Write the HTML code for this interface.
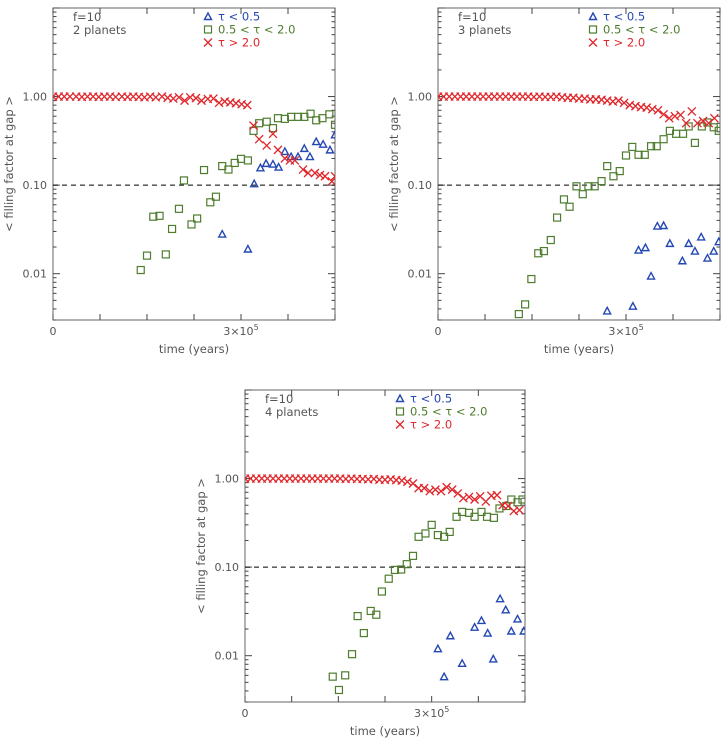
<!DOCTYPE html>
<html><head><meta charset="utf-8"><style>
body{margin:0;background:#fff}
svg text{font-family:"DejaVu Sans","Liberation Sans",sans-serif;fill:#555}
</style></head><body>
<svg id="chart" width="726" height="745" viewBox="0 0 726 745" xmlns="http://www.w3.org/2000/svg"></svg>
<script>
// ---- data (time in units of 1e5 years, value = filling factor) ----
const p1RedT = [0,0.09,0.18,0.27,0.37,0.46,0.55,0.64,0.73,0.82,0.91,1.0,1.1,1.19,1.28,1.37,1.46,1.55,1.64,1.74,1.83,1.92,2.01,2.1,2.19,2.28,2.37,2.47,2.56,2.65,2.74,2.83,2.92,3.01,3.1,
  3.2,3.29,3.41,3.51,3.59,3.7,3.78,3.86,3.99,4.07,4.18,4.26,4.34,4.45,4.5];
const p1RedV = [1,1,1,1,1,0.99,1,1,0.99,1,1,0.99,1,0.99,1,0.99,0.98,1,0.98,1,0.97,0.95,0.98,0.9,0.98,0.96,0.9,0.94,0.95,0.85,0.88,0.86,0.84,0.82,0.8,
  0.47,0.33,0.28,0.38,0.25,0.2,0.19,0.19,0.15,0.137,0.137,0.13,0.126,0.11,0.126];
const p1GreenT = [1.4,1.5,1.6,1.7,1.8,1.9,2.01,2.09,2.21,2.3,2.41,2.51,2.6,2.7,2.8,2.9,3.0,3.11,3.2,3.29,3.41,3.51,3.59,3.7,3.8,3.91,4.01,4.11,4.2,4.3,4.41,4.5];
const p1GreenV = [0.011,0.016,0.044,0.045,0.0165,0.032,0.054,0.113,0.036,0.042,0.148,0.064,0.074,0.164,0.15,0.178,0.198,0.19,0.41,0.5,0.52,0.44,0.57,0.56,0.59,0.59,0.59,0.64,0.54,0.57,0.63,0.48];
const p1BlueT = [2.7,3.11,3.21,3.31,3.4,3.51,3.6,3.7,3.8,3.91,4.01,4.1,4.2,4.31,4.42,4.5];
const p1BlueV = [0.028,0.019,0.104,0.157,0.176,0.173,0.16,0.24,0.21,0.21,0.26,0.21,0.31,0.29,0.25,0.37];

const redT = [0,0.09,0.18,0.27,0.36,0.45,0.54,0.63,0.72,0.81,0.9,0.99,1.08,1.17,1.26,1.35,1.44,1.53,1.62,1.71,1.8,1.89,1.98,2.07,2.16,2.25,2.34,2.43,2.52,2.61,2.7,2.79,2.88,2.97,3.06,3.15,3.24,3.33,3.42,3.51,3.6,3.69,3.78,3.87,3.96,4.05,4.14,4.23,4.32,4.41];
const p2RedV = [1,1,1,1,1,1,1,1,1,1,1,1,1,1,1,1,1,0.99,1,0.99,0.99,1,0.98,0.97,0.97,0.95,0.95,0.93,0.93,0.92,0.9,0.88,0.9,0.85,0.8,0.78,0.76,0.75,0.72,0.7,0.63,0.57,0.6,0.62,0.5,0.68,0.5,0.53,0.5,0.57];
const p2GreenT = [1.29,1.39,1.49,1.6,1.69,1.8,1.9,2.01,2.1,2.21,2.31,2.4,2.5,2.61,2.7,2.8,2.9,3.0,3.1,3.2,3.3,3.4,3.49,3.6,3.7,3.8,3.91,4.0,4.1,4.21,4.3,4.4,4.48];
const p2GreenV = [0.0035,0.0045,0.0087,0.017,0.018,0.024,0.043,0.069,0.057,0.097,0.079,0.097,0.097,0.111,0.164,0.126,0.144,0.216,0.27,0.22,0.22,0.275,0.275,0.33,0.41,0.38,0.38,0.46,0.3,0.46,0.51,0.45,0.41];
const p2BlueT = [2.7,3.11,3.2,3.31,3.4,3.5,3.6,3.7,3.9,4.0,4.1,4.2,4.3,4.4,4.48];
const p2BlueV = [0.0038,0.0043,0.0185,0.0197,0.0094,0.0345,0.035,0.022,0.014,0.022,0.018,0.026,0.015,0.018,0.023];

const p3RedV = [1,1,1,1,1,1,1,1,1,1,1,1,1,1,1,1,1,1,0.99,1,0.99,0.99,0.98,0.99,0.97,0.97,0.98,0.96,0.95,0.92,0.88,0.78,0.78,0.72,0.75,0.72,0.8,0.75,0.68,0.6,0.62,0.58,0.63,0.55,0.64,0.65,0.5,0.49,0.43,0.44];
const p3GreenT = [1.41,1.51,1.61,1.72,1.81,1.91,2.02,2.11,2.2,2.31,2.41,2.51,2.6,2.7,2.79,2.9,3.0,3.1,3.2,3.29,3.4,3.49,3.6,3.69,3.8,3.89,4.0,4.09,4.2,4.28,4.38,4.46];
const p3GreenV = [0.0058,0.0041,0.006,0.0104,0.028,0.018,0.032,0.029,0.053,0.074,0.093,0.094,0.108,0.134,0.22,0.24,0.3,0.23,0.22,0.25,0.37,0.42,0.41,0.37,0.42,0.37,0.36,0.46,0.49,0.58,0.54,0.58];
const p3BlueT = [3.1,3.2,3.3,3.49,3.69,3.8,3.9,3.99,4.1,4.19,4.28,4.38,4.48];
const p3BlueV = [0.012,0.0058,0.0168,0.0082,0.021,0.025,0.018,0.0092,0.044,0.033,0.019,0.026,0.019];

const yTickLabels = ["0.01","0.10","1.00"];
const yTickValues = [0.01,0.1,1];
const legendLabels = ["\u03c4 < 0.5","0.5 < \u03c4 < 2.0","\u03c4 > 2.0"];

const NS = "http://www.w3.org/2000/svg";
const svg = document.getElementById("chart");
function mk(tag, attrs, parent){const e=document.createElementNS(NS,tag);for(const k in attrs)e.setAttribute(k,attrs[k]);(parent||svg).appendChild(e);return e;}

const RED="#e0262a", GREEN="#4e7d2e", BLUE="#2448b4";

function panel(id, L, R, T, B, title, redTs, redVs, gT, gV, bT, bV){
  const g = mk("g",{});
  
  
  const xmin=0,xmax=4.5,ymin=Math.log10(0.003),ymax=1;
  const X=t=>L+(t-xmin)/(xmax-xmin)*(R-L);
  const Y=v=>T+(ymax-Math.log10(v))/(ymax-ymin)*(B-T);
  // clip
  const cp = mk("clipPath",{id:id+"-clip"},g);
  mk("rect",{x:L,y:T,width:R-L,height:B-T},cp);
  // axes box
  const box = mk("rect",{x:L,y:T,width:R-L,height:B-T,fill:"none",stroke:"#666","stroke-width":1},g);
  
  
  // x ticks
  for(let t=0;t<=4.5;t+=0.75){const x=X(t);
    mk("line",{x1:x,y1:B,x2:x,y2:B-6,stroke:"#444"},g);
    mk("line",{x1:x,y1:T,x2:x,y2:T+6,stroke:"#444"},g);}
  // y ticks
  for(let d=-3;d<=0;d++){for(let m=1;m<=9;m++){const v=m*Math.pow(10,d);
    if(v<0.003||v>10)continue;const y=Y(v);const len=m===1?7:3.5;
    mk("line",{x1:L,y1:y,x2:L+len,y2:y,stroke:"#444"},g);
    mk("line",{x1:R,y1:y,x2:R-len,y2:y,stroke:"#444"},g);}}
  const yt=Y(10); mk("line",{x1:L,y1:yt,x2:L+7,y2:yt,stroke:"#444"},g);
  yTickValues.forEach((v,i)=>{const t=mk("text",{x:L-6,y:Y(v)+4,"text-anchor":"end","font-size":11},g);t.textContent=yTickLabels[i];
    
    });
  // x labels
  let t0=mk("text",{x:X(0),y:B+15,"text-anchor":"middle","font-size":11},g);t0.textContent="0";
  
  
  let t3=mk("text",{x:X(3),y:B+15,"text-anchor":"middle","font-size":11},g);
  
  
  t3.innerHTML='3×10<tspan dy="-5" font-size="8">5</tspan>';
  let xt=mk("text",{x:(L+R)/2,y:B+33,"text-anchor":"middle","font-size":11.5},g);xt.textContent="time (years)";
  
  
  let yc=(T+B)/2, yx=L-40;
  let ytt=mk("text",{x:yx,y:yc,"text-anchor":"middle","font-size":11.5,transform:`rotate(-90 ${yx} ${yc})`},g);ytt.textContent="< filling factor at gap >";
  
  
  // threshold line
  const dl=mk("line",{x1:L,y1:Y(0.1),x2:R,y2:Y(0.1),stroke:"#000","stroke-dasharray":"5,4","stroke-width":1},g);
  
  
  // annotations
  let a1=mk("text",{x:L+20,y:T+13,"font-size":11.5},g);a1.textContent="f=10";
  
  
  let a2=mk("text",{x:L+20,y:T+26,"font-size":11.5},g);a2.textContent=title;
  
  
  // markers
  const pg=mk("g",{"clip-path":`url(#${id}-clip)`},g);
  function tri(x,y,c,parent){const e=mk("path",{d:`M${x-3.5} ${y+3}L${x+3.5} ${y+3}L${x} ${y-3.5}Z`,fill:"none",stroke:c,"stroke-width":1.4},parent);return e;}
  function sq(x,y,c,parent){return mk("rect",{x:x-3.5,y:y-3.5,width:7,height:7,fill:"none",stroke:c,"stroke-width":1.2},parent);}
  function cr(x,y,c,parent){return mk("path",{d:`M${x-4} ${y-4}L${x+4} ${y+4}M${x+4} ${y-4}L${x-4} ${y+4}`,stroke:c,"stroke-width":1.3},parent);}
  gT.forEach((t,i)=>{const e=sq(X(t),Y(gV[i]),GREEN,pg);
    
    });
  bT.forEach((t,i)=>{const e=tri(X(t),Y(bV[i]),BLUE,pg);
    
    });
  redTs.forEach((t,i)=>{const e=cr(X(t),Y(redVs[i]),RED,pg);
    
    });
  // legend
  const lx=L+155, colors=[BLUE,GREEN,RED], fns=[tri,sq,cr];
  for(let i=0;i<3;i++){const ly=T+12+i*13;
    const m=fns[i](lx,ly-3.5,colors[i],g);
    
    
    const t=mk("text",{x:lx+10,y:ly+0.5,"font-size":11.5},g);t.textContent=legendLabels[i];t.style.fill=colors[i];
    
    }
}
panel("panel-2-planets",53,335,8,320,"2 planets",p1RedT,p1RedV,p1GreenT,p1GreenV,p1BlueT,p1BlueV);
panel("panel-3-planets",438,720,8,320,"3 planets",redT,p2RedV,p2GreenT,p2GreenV,p2BlueT,p2BlueV);
panel("panel-4-planets",245,525,390,702,"4 planets",redT,p3RedV,p3GreenT,p3GreenV,p3BlueT,p3BlueV);
</script>
</body></html>
